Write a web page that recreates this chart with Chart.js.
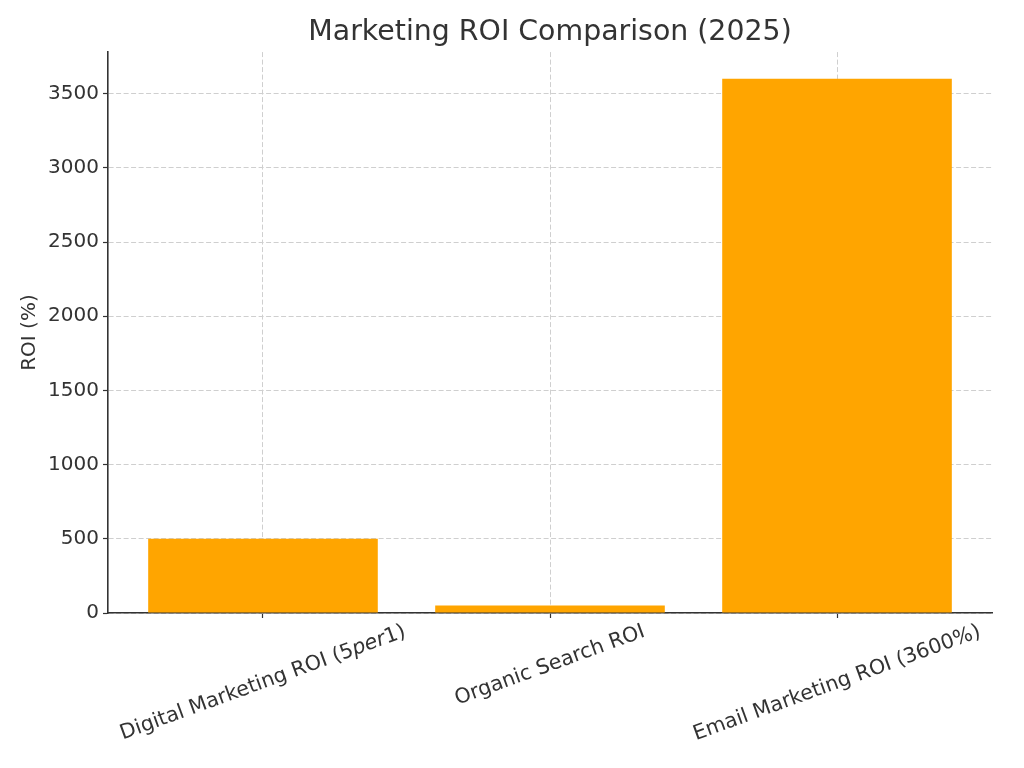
<!DOCTYPE html>
<html>
<head>
<meta charset="utf-8">
<script src="https://cdn.jsdelivr.net/npm/chart.js@4.4.1/dist/chart.umd.min.js"></script>
<style>
  html, body { margin: 0; padding: 0; background: #ffffff; }
  #roiChart { display: block; }
</style>
</head>
<body>
<canvas id="roiChart" width="1024" height="768"></canvas>
<script>
// Chart data
// text between * marks is drawn in italic (mathtext in the original)
const categories = ['Digital Marketing ROI (5*per*1)', 'Organic Search ROI', 'Email Marketing ROI (3600%)'];
const roiValues = [500, 50, 3600];
const yTicks = [0, 500, 1000, 1500, 2000, 2500, 3000, 3500];

const textColor = '#333333';
const fontFamily = "'DejaVu Sans', sans-serif";

// Draw rotated x labels centred under each tick, like matplotlib rotation=20
const rotatedLabels = {
    id: 'rotatedLabels',
    afterDraw(chart) {
        const ctx = chart.ctx;
        const xScale = chart.scales.x;
        const angle = 20 * Math.PI / 180;
        const size = 20.6;
        const lineH = size * 1.16;
        const top = chart.chartArea.bottom + 7;

        categories.forEach((label, i) => {
            const parts = label.split('*');
            let width = 0;
            const widths = parts.map((p, k) => {
                ctx.font = (k % 2 ? 'italic ' : '') + size + 'px ' + fontFamily;
                const w = ctx.measureText(p).width;
                width += w;
                return w;
            });
            const boxH = width * Math.sin(angle) + lineH * Math.cos(angle);
            const cx = xScale.getPixelForValue(i);
            const cy = top + boxH / 2;

            ctx.save();
            ctx.translate(cx, cy);
            ctx.rotate(-angle);
            ctx.fillStyle = textColor;
            ctx.textAlign = 'left';
            ctx.textBaseline = 'middle';
            let x = -width / 2;
            parts.forEach((p, k) => {
                ctx.font = (k % 2 ? 'italic ' : '') + size + 'px ' + fontFamily;
                ctx.fillText(p, x, 0);
                x += widths[k];
            });
            ctx.restore();
        });
    }
};

function initializeChart() {
    const canvas = document.getElementById('roiChart');
    const ctx = canvas.getContext('2d');

    const gridOpts = {
        color: '#cfcfcf',
        lineWidth: 1,
        offset: false,
        drawTicks: true,
        tickLength: 5,
        tickColor: '#333333',
        tickBorderDash: [],
        tickWidth: 1.2
    };
    const borderOpts = { display: true, color: '#333333', width: 1.6, dash: [5, 2.5] };

    new Chart(ctx, {
        type: 'bar',
        data: {
            datasets: [{
                label: 'ROI (%)',
                data: roiValues.map((v, i) => ({ x: i, y: v })),
                backgroundColor: '#FFA500',
                borderWidth: 0,
                barPercentage: 0.8,
                categoryPercentage: 1.0
            }]
        },
        options: {
            responsive: false,
            animation: false,
            devicePixelRatio: 1,
            layout: {
                padding: { left: 0, right: 32, top: 0, bottom: 0 }
            },
            plugins: {
                legend: { display: false },
                tooltip: { enabled: false },
                title: {
                    display: true,
                    fullSize: false, // centre over the plot area, not the canvas
                    text: 'Marketing ROI Comparison (2025)',
                    color: textColor,
                    font: { family: fontFamily, size: 28.4, weight: 'normal' },
                    padding: { top: 16, bottom: 2 }
                }
            },
            scales: {
                x: {
                    type: 'linear',
                    min: -0.54,
                    max: 2.54,
                    offset: false,
                    z: 1,
                    afterBuildTicks: scale => {
                        scale.ticks = categories.map((c, i) => ({ value: i }));
                    },
                    afterFit: scale => { scale.height = 155; },
                    ticks: { display: false },
                    grid: gridOpts,
                    border: borderOpts
                },
                y: {
                    min: 0,
                    max: 3780,
                    z: 1,
                    afterBuildTicks: scale => {
                        scale.ticks = yTicks.map(v => ({ value: v }));
                    },
                    afterFit: scale => { scale.width = 108; },
                    ticks: {
                        color: textColor,
                        font: { family: fontFamily, size: 20 },
                        padding: 4,
                        callback: value => String(value)
                    },
                    grid: gridOpts,
                    border: borderOpts,
                    title: {
                        display: true,
                        text: 'ROI (%)',
                        color: textColor,
                        font: { family: fontFamily, size: 20 },
                        padding: { top: 18, bottom: 0 }
                    }
                }
            }
        },
        plugins: [rotatedLabels]
    });
}

document.addEventListener('DOMContentLoaded', initializeChart);
</script>
</body>
</html>
